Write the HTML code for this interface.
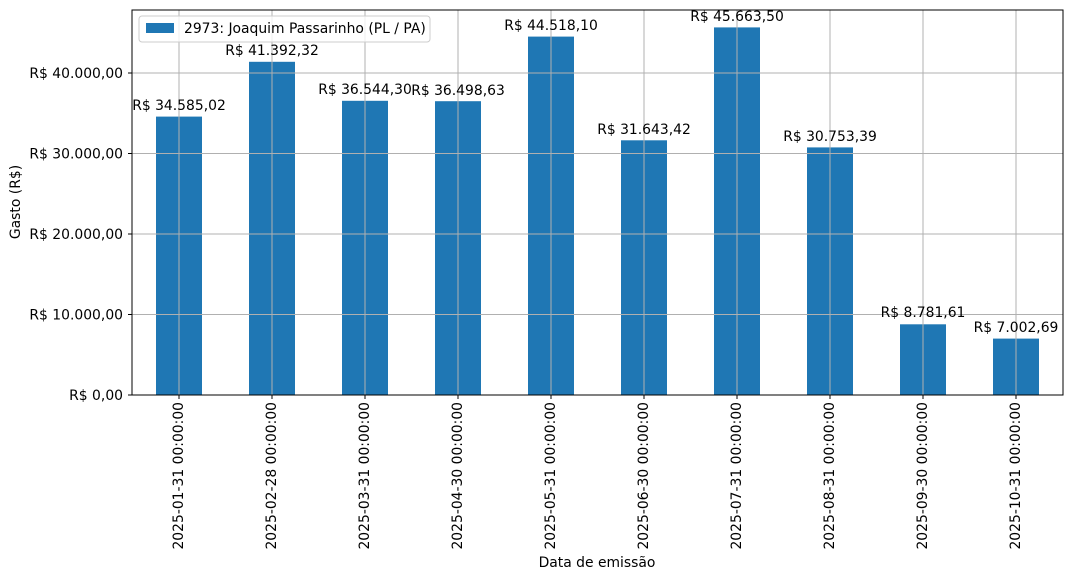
<!DOCTYPE html>
<html><head><meta charset="utf-8"><style>body{margin:0;background:#fff}svg{display:block}</style></head><body>
<svg width="1072" height="580" xmlns="http://www.w3.org/2000/svg" font-family="DejaVu Sans, Liberation Sans, sans-serif" font-size="13.9">
<rect width="1072" height="580" fill="#fff"/>
<g fill="#1f77b4">
<rect x="156" y="116.6" width="46" height="278.4"/>
<rect x="249" y="61.8" width="46" height="333.2"/>
<rect x="342" y="100.8" width="46" height="294.2"/>
<rect x="435" y="101.2" width="46" height="293.8"/>
<rect x="528" y="36.6" width="46" height="358.4"/>
<rect x="621" y="140.3" width="46" height="254.7"/>
<rect x="714" y="27.4" width="46" height="367.6"/>
<rect x="807" y="147.4" width="46" height="247.6"/>
<rect x="900" y="324.3" width="46" height="70.7"/>
<rect x="993" y="338.6" width="46" height="56.4"/>
</g>
<g stroke="#b0b0b0" stroke-width="1">
<line x1="132" x2="1063" y1="314.5" y2="314.5"/><line x1="132" x2="1063" y1="234" y2="234"/><line x1="132" x2="1063" y1="153.5" y2="153.5"/><line x1="132" x2="1063" y1="73" y2="73"/>
<line x1="179" x2="179" y1="10" y2="395"/><line x1="272" x2="272" y1="10" y2="395"/><line x1="365" x2="365" y1="10" y2="395"/><line x1="458" x2="458" y1="10" y2="395"/><line x1="551" x2="551" y1="10" y2="395"/><line x1="644" x2="644" y1="10" y2="395"/><line x1="737" x2="737" y1="10" y2="395"/><line x1="830" x2="830" y1="10" y2="395"/><line x1="923" x2="923" y1="10" y2="395"/><line x1="1016" x2="1016" y1="10" y2="395"/>
</g>
<rect x="132" y="10" width="931" height="385" fill="none" stroke="#000" stroke-width="1"/>
<g stroke="#000"><line x1="128" x2="132" y1="395" y2="395"/><line x1="128" x2="132" y1="314.5" y2="314.5"/><line x1="128" x2="132" y1="234" y2="234"/><line x1="128" x2="132" y1="153.5" y2="153.5"/><line x1="128" x2="132" y1="73" y2="73"/>
<line x1="179" x2="179" y1="395" y2="399"/><line x1="272" x2="272" y1="395" y2="399"/><line x1="365" x2="365" y1="395" y2="399"/><line x1="458" x2="458" y1="395" y2="399"/><line x1="551" x2="551" y1="395" y2="399"/><line x1="644" x2="644" y1="395" y2="399"/><line x1="737" x2="737" y1="395" y2="399"/><line x1="830" x2="830" y1="395" y2="399"/><line x1="923" x2="923" y1="395" y2="399"/><line x1="1016" x2="1016" y1="395" y2="399"/></g>
<g text-anchor="end"><text x="123" y="400">R$ 0,00</text><text x="123" y="319.5">R$ 10.000,00</text><text x="123" y="239">R$ 20.000,00</text><text x="123" y="158.5">R$ 30.000,00</text><text x="123" y="78">R$ 40.000,00</text></g>
<g text-anchor="middle">
<text x="179" y="110">R$ 34.585,02</text><text x="272" y="55">R$ 41.392,32</text><text x="365" y="94">R$ 36.544,30</text><text x="458" y="95">R$ 36.498,63</text><text x="551" y="30">R$ 44.518,10</text><text x="644" y="134">R$ 31.643,42</text><text x="737" y="21">R$ 45.663,50</text><text x="830" y="141">R$ 30.753,39</text><text x="923" y="317">R$ 8.781,61</text><text x="1016" y="332">R$ 7.002,69</text>
<text x="597" y="567">Data de emissão</text>
<text transform="translate(20,202) rotate(-90)">Gasto (R$)</text>
</g>
<g text-anchor="end">
<text transform="translate(183,402) rotate(-90)">2025-01-31 00:00:00</text><text transform="translate(276,402) rotate(-90)">2025-02-28 00:00:00</text><text transform="translate(369,402) rotate(-90)">2025-03-31 00:00:00</text><text transform="translate(462,402) rotate(-90)">2025-04-30 00:00:00</text><text transform="translate(555,402) rotate(-90)">2025-05-31 00:00:00</text><text transform="translate(648,402) rotate(-90)">2025-06-30 00:00:00</text><text transform="translate(741,402) rotate(-90)">2025-07-31 00:00:00</text><text transform="translate(834,402) rotate(-90)">2025-08-31 00:00:00</text><text transform="translate(927,402) rotate(-90)">2025-09-30 00:00:00</text><text transform="translate(1020,402) rotate(-90)">2025-10-31 00:00:00</text>
</g>
<rect x="139" y="16" width="291" height="26" rx="3" fill="#fff" fill-opacity="0.8" stroke="#ccc"/>
<rect x="146" y="23" width="28" height="10" fill="#1f77b4"/>
<text x="184" y="33">2973: Joaquim Passarinho (PL / PA)</text>
</svg>
</body></html>
